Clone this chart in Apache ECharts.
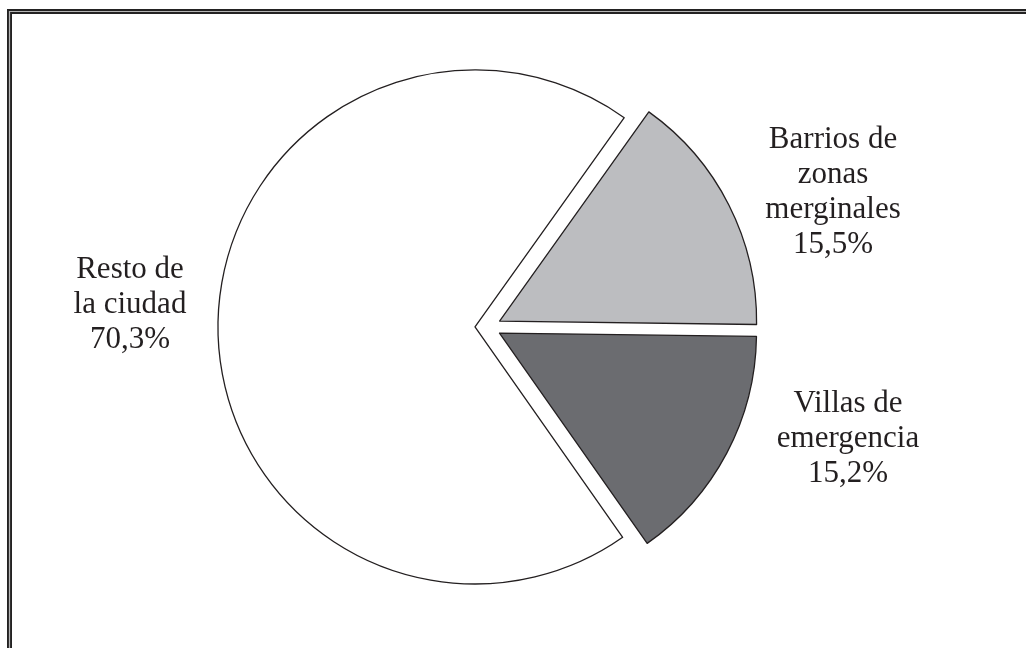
<!DOCTYPE html>
<html>
<head>
<meta charset="utf-8">
<script src="https://cdn.jsdelivr.net/npm/echarts@6/dist/echarts.min.js"></script>
<style>
  html, body { margin: 0; padding: 0; background: #fff; }
  #main { width: 1026px; height: 648px; }
</style>
</head>
<body>
<div id="main"></div>
<script>
// data
const names = ['Barrios de\nzonas\nmerginales', 'Villas de\nemergencia', 'Resto de\nla ciudad'];
const values = [15.5, 15.2, 70.3];
const colors = ['#bcbdc0', '#6b6c70', '#ffffff'];

// where each label block sits (centre, px)
const labelPos = [[833, 192], [848, 439], [130, 305]];

const chart = echarts.init(document.getElementById('main'));

const fmt = v => String(v).replace('.', ',') + '%';

const labels = names.map((n, i) => ({
  type: 'text',
  x: labelPos[i][0],
  y: labelPos[i][1],
  silent: true,
  style: {
    text: n + '\n' + fmt(values[i]),
    align: 'center',
    verticalAlign: 'middle',
    fontFamily: '"Liberation Serif", "DejaVu Serif", serif',
    fontSize: 31,
    lineHeight: 35,
    fill: '#231f20'
  }
}));

const option = {
  animation: false,
  backgroundColor: '#fff',
  graphic: [
    {
      type: 'rect',
      shape: { x: 9.5, y: 11.5, width: 1040, height: 660 },
      style: { fill: null, stroke: '#232222', lineWidth: 5 },
      silent: true
    },
    {
      type: 'rect',
      shape: { x: 9.5, y: 11.5, width: 1040, height: 660 },
      style: { fill: null, stroke: '#b4b4b4', lineWidth: 1.2 },
      silent: true
    }
  ].concat(labels),
  series: [
    {
      type: 'pie',
      center: [488, 327],
      radius: [0, 257],
      startAngle: 54.5,
      clockwise: true,
      selectedMode: 'multiple',
      selectedOffset: 13,
      emphasis: { disabled: true },
      itemStyle: { borderColor: '#231f20', borderWidth: 1.3 },
      label: { show: false },
      labelLine: { show: false },
      data: names.map((n, i) => ({
        name: n,
        value: values[i],
        selected: true,
        itemStyle: { color: colors[i] }
      }))
    }
  ]
};

chart.setOption(option);
</script>
</body>
</html>
